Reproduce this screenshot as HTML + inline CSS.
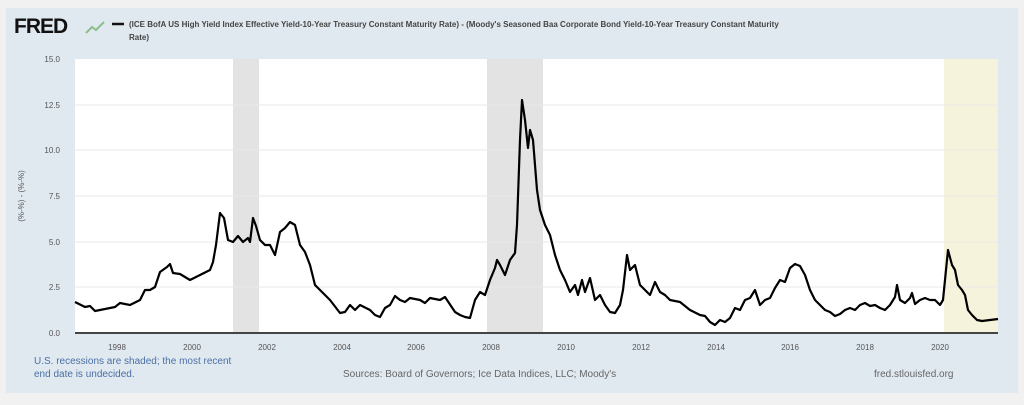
<!DOCTYPE html>
<html><head><meta charset="utf-8"><style>
body{margin:0;width:1024px;height:400px;background:#f1f1f1;overflow:hidden;font-family:"Liberation Sans",sans-serif}
</style></head><body>
<svg width="1024" height="400" xmlns="http://www.w3.org/2000/svg" font-family="Liberation Sans, sans-serif">
<rect x="6" y="8" width="1012" height="385" fill="#e1e9f0"/>
<text x="14" y="33" font-size="21" font-weight="bold" fill="#111" letter-spacing="-1">FRED</text>
<path d="M86 33 L92 27 L96 30 L104 22" stroke="#8bbf8b" stroke-width="2" fill="none"/>
<line x1="112" y1="24" x2="124" y2="24" stroke="#111" stroke-width="2.5"/>
<text x="129" y="27" font-size="8" fill="#444" font-weight="bold">(ICE BofA US High Yield Index Effective Yield-10-Year Treasury Constant Maturity Rate) - (Moody's Seasoned Baa Corporate Bond Yield-10-Year Treasury Constant Maturity</text>
<text x="129" y="40" font-size="8" fill="#444" font-weight="bold">Rate)</text>
<rect x="75" y="59" width="923" height="274" fill="#fff"/>
<rect x="233" y="59" width="26" height="274" fill="#e3e3e3"/>
<rect x="487" y="59" width="56" height="274" fill="#e3e3e3"/>
<rect x="944" y="59" width="54" height="274" fill="#f6f3dc"/>
<g stroke="#eaeaea" stroke-width="1">
<line x1="75" x2="998" y1="105" y2="105"/><line x1="75" x2="998" y1="150" y2="150"/>
<line x1="75" x2="998" y1="196" y2="196"/><line x1="75" x2="998" y1="242" y2="242"/>
<line x1="75" x2="998" y1="287" y2="287"/>
</g>
<line x1="75" x2="998" y1="333" y2="333" stroke="#444" stroke-width="2"/>
<g font-size="8" fill="#555" text-anchor="end">
<text x="60" y="62">15.0</text><text x="60" y="108">12.5</text><text x="60" y="153">10.0</text>
<text x="60" y="199">7.5</text><text x="60" y="245">5.0</text><text x="60" y="290">2.5</text><text x="60" y="336">0.0</text>
</g>
<text transform="translate(24,196) rotate(-90)" font-size="8" fill="#555" text-anchor="middle">(%-%) - (%-%)</text>
<g font-size="8" fill="#555" text-anchor="middle">
<text x="117" y="350">1998</text><text x="192" y="350">2000</text><text x="267" y="350">2002</text>
<text x="342" y="350">2004</text><text x="416" y="350">2006</text><text x="491" y="350">2008</text>
<text x="566" y="350">2010</text><text x="641" y="350">2012</text><text x="716" y="350">2014</text>
<text x="790" y="350">2016</text><text x="865" y="350">2018</text><text x="940" y="350">2020</text>
</g>
<polyline fill="none" stroke="#000" stroke-width="2.2" stroke-linejoin="round" points="75,302 85,307 90,306 95,311 105,309 115,307 120,303 130,305 140,300 145,290 150,290 155,287 160,272 167,267 170,264 173,273 180,274 190,280 200,275 210,270 213,262 216,245 220,213 224,218 228,240 233,242 238,236 243,242 248,238 250,242 253,218 256,226 260,240 265,245 270,245 275,255 280,232 285,228 290,222 295,225 300,245 305,252 310,265 315,285 320,290 330,300 340,313 345,312 350,305 355,310 360,305 370,310 375,315 380,317 385,308 390,305 395,296 400,300 405,302 410,298 420,300 425,303 430,298 440,300 445,297 455,312 460,315 465,317 470,318 475,300 480,292 485,295 490,280 495,268 497,260 500,265 505,275 510,260 515,253 517,225 520,140 522,100 525,120 528,148 530,130 533,140 537,190 540,210 545,225 550,235 555,255 560,270 565,280 570,292 575,285 578,295 582,280 585,292 590,278 595,300 600,295 605,305 610,312 615,313 620,305 623,290 627,255 630,270 635,265 640,285 645,290 650,295 655,282 660,292 665,295 670,300 680,302 690,310 700,315 705,316 710,322 715,325 720,320 725,322 730,318 735,308 740,310 745,300 750,298 755,290 760,305 765,300 770,298 775,288 780,280 785,282 790,268 795,264 800,266 805,275 810,290 815,300 820,305 825,310 830,312 835,316 840,314 845,310 850,308 855,310 860,305 865,303 870,306 875,305 880,308 885,310 890,305 895,297 897,285 900,300 905,303 910,298 912,293 915,304 920,300 925,298 930,300 935,300 940,305 943,300 946,270 948,250 952,265 955,270 958,285 962,290 965,295 968,310 972,315 977,320 982,321 990,320 998,319"/>
<text x="34" y="364" font-size="10" fill="#4a6fa5">U.S. recessions are shaded; the most recent</text>
<text x="34" y="377" font-size="10" fill="#4a6fa5">end date is undecided.</text>
<text x="343" y="377" font-size="10" fill="#666">Sources: Board of Governors; Ice Data Indices, LLC; Moody's</text>
<text x="874" y="377" font-size="10" fill="#666">fred.stlouisfed.org</text>
</svg>
</body></html>
